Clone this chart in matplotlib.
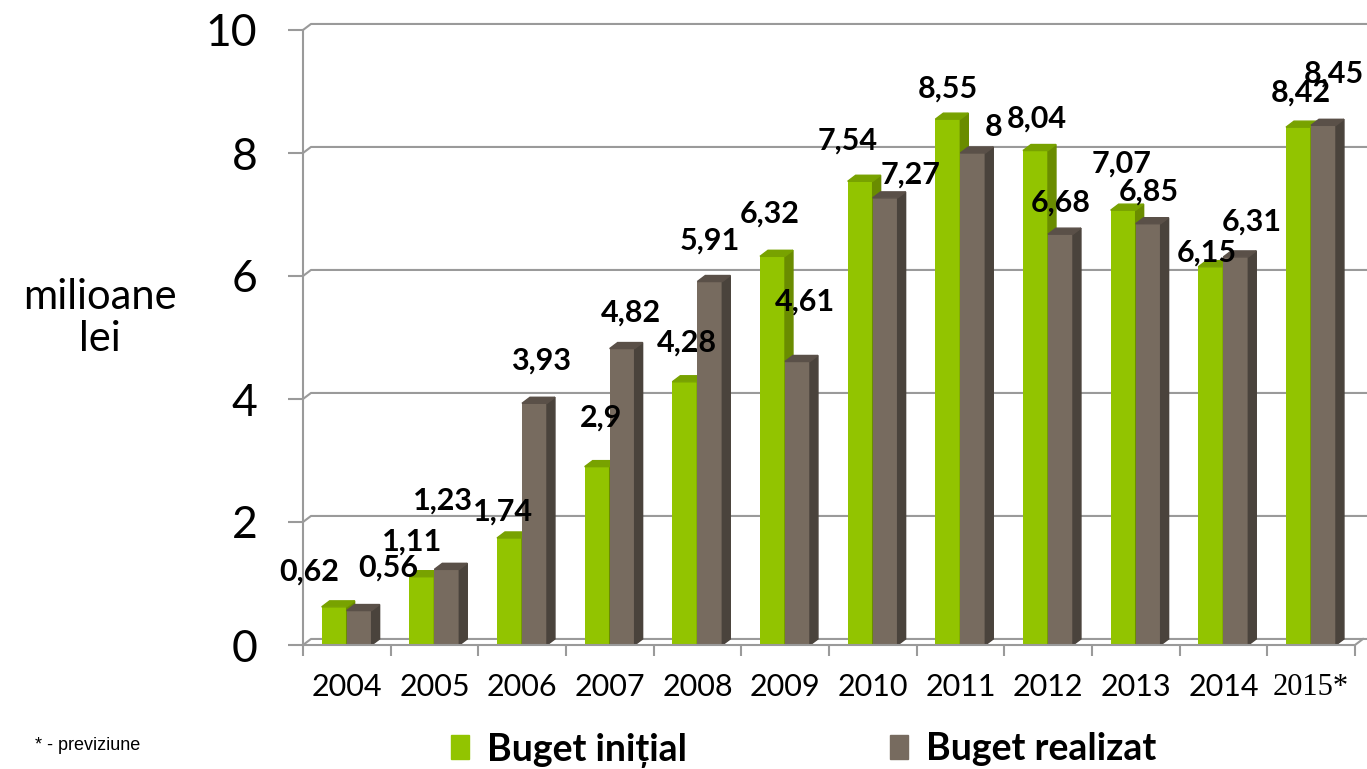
import matplotlib
matplotlib.use("Agg")
import matplotlib.pyplot as plt
from matplotlib.patches import Polygon, Patch
import numpy as np

# ------------------------------
# data
# ------------------------------
years = ['2004', '2005', '2006', '2007', '2008', '2009',
         '2010', '2011', '2012', '2013', '2014', '2015*']
initial = [0.62, 1.11, 1.74, 2.9, 4.28, 6.32, 7.54, 8.55, 8.04, 7.07, 6.15, 8.42]
realized = [0.56, 1.23, 3.93, 4.82, 5.91, 4.61, 7.27, 8.0, 6.68, 6.85, 6.31, 8.45]
series_names = ['Buget inițial', 'Buget realizat']

# label nudges in pixels -- the original labels sit rather unevenly
initial_off = [(-25, 35), (-10, 35), (-6, 26), (4, 49), (2, 39), (-3, 43),
               (-12, 41), (0, 31), (1, 32), (-2, 47), (-4, 14), (2, 35)]
realized_off = [(29, 43), (-4, 69), (7, 43), (9, 36), (0, 41), (7, 60),
                (25, 23), (21, 26), (0, 32), (1, 32), (16, 35), (10, 52)]

# colors: front, side, top
GREEN = ('#92c400', '#6a8c00', '#78a200')
GREY = ('#776b5f', '#4a433c', '#5a5048')
GRID = '#9a9a9a'
FONTS = ['Lato', 'DejaVu Sans']

# fake 3d depth (data units)
DX = 0.091
DY = 0.098
BW = 0.285


def bar3d(ax, x0, h, cols):
    """Draw one pseudo-3d bar: front face, right side and top."""
    front, side, top = cols
    ax.bar(x0, h, BW, align='edge', color=front, zorder=3, clip_on=False)
    x1 = x0 + BW
    ax.add_patch(Polygon([(x1, 0), (x1 + DX, DY), (x1 + DX, h + DY), (x1, h)],
                         closed=True, color=side, zorder=3, clip_on=False))
    ax.add_patch(Polygon([(x0, h), (x0 + DX, h + DY), (x1 + DX, h + DY), (x1, h)],
                         closed=True, color=top, zorder=3, clip_on=False))


fig = plt.figure(figsize=(13.67, 7.69), dpi=100)
ax = fig.add_axes([303 / 1367, 124 / 769, 1052 / 1367, 615 / 769])
n = len(years)
ax.set_xlim(0, n)
ax.set_ylim(0, 10)
for s in ax.spines.values():
    s.set_visible(False)

# back wall grid + floor
for yv in range(0, 11, 2):
    ax.plot([0, DX, n + 0.16], [yv, yv + DY, yv + DY], color=GRID, lw=1.5,
            zorder=1, clip_on=False)
ax.plot([0, n, n + DX], [0, 0, DY], color=GRID, lw=1.5, zorder=4, clip_on=False)
ax.plot([0, 0], [0, 10], color=GRID, lw=1.5, zorder=4, clip_on=False)

# bars
xs = np.arange(n)
for i in range(n):
    bar3d(ax, xs[i] + 0.213, initial[i], GREEN)
    bar3d(ax, xs[i] + 0.213 + BW, realized[i], GREY)

# value labels
lab_kw = dict(textcoords='offset pixels', ha='center', va='center',
              fontsize=22, fontweight='bold', family=FONTS,
              color='black', zorder=6, annotation_clip=False)
for i in range(n):
    for vals, offs, shift in ((initial, initial_off, 0.213 + BW / 2),
                              (realized, realized_off, 0.213 + 1.5 * BW)):
        txt = '{:g}'.format(vals[i]).replace('.', ',')
        ax.annotate(txt, (xs[i] + shift, vals[i]), xytext=offs[i], **lab_kw)

# axes ticks
ax.set_yticks(range(0, 11, 2))
ax.set_yticklabels([str(v) for v in range(0, 11, 2)], fontsize=32,
                   family=FONTS, color='black')
ax.tick_params(axis='y', length=10.8, width=1.5, color=GRID, pad=22)
ax.set_xticks(np.arange(n + 1), minor=True)
ax.set_xticks(xs + 0.5)
ax.set_xticklabels(years, fontsize=22, family=FONTS, color='black')
ax.get_xticklabels()[-1].set_family('Liberation Serif')
ax.tick_params(axis='x', which='major', length=0, pad=20)
ax.tick_params(axis='x', which='minor', length=8, width=1.5, color=GRID)

fig.text(100 / 1367, 1 - 318 / 769, 'milioane\nlei', ha='center', va='center',
         fontsize=30, family=FONTS, linespacing=1.15)
fig.text(35 / 1367, 1 - 745 / 769, '* - previziune', ha='left', va='center',
         fontsize=13, family='Liberation Sans')

handles = [Patch(color=GREEN[0]), Patch(color=GREY[0])]
fig.legend(handles, series_names, loc='center left',
           bbox_to_anchor=(451 / 1367, 1 - 750 / 769), ncol=2, frameon=False,
           borderpad=0, borderaxespad=0,
           handlelength=0.48, handleheight=0.59, handletextpad=0.48,
           columnspacing=5.4,
           prop={'family': FONTS, 'weight': 'bold', 'size': 27})

fig.savefig('out.png', dpi=100)
